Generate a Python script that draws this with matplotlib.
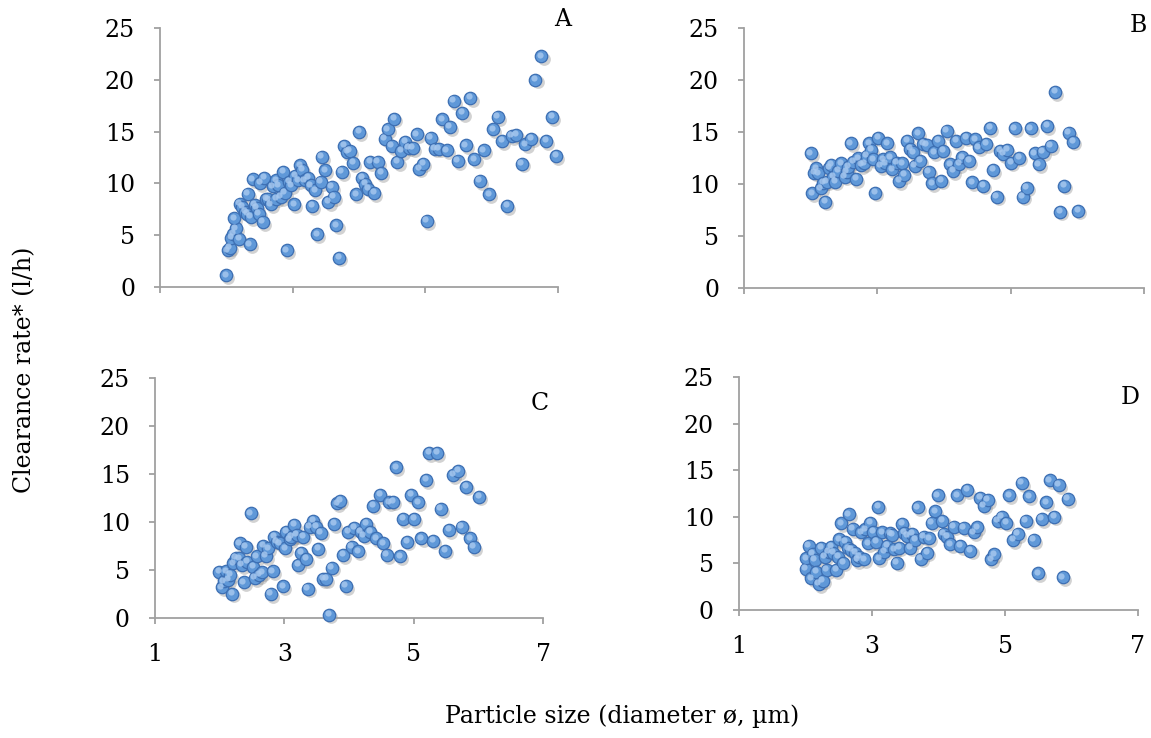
import matplotlib
matplotlib.use("Agg")
import matplotlib.pyplot as plt
import matplotlib.transforms as mtransforms

# ---- data ----
a_x = [2.00, 2.02, 2.05, 2.07, 2.10, 2.19, 2.14, 2.12, 2.35, 2.20, 2.24, 2.28, 2.31, 2.32, 2.37,
       2.40, 2.43, 2.46, 2.49, 2.51, 2.55, 2.57, 2.60, 2.63, 2.67, 2.70, 2.75, 2.78, 2.75, 2.82,
       2.88, 2.86, 2.91, 2.95, 2.98, 3.02, 3.04, 3.08, 3.11, 3.14, 3.18, 3.23, 3.27, 3.29, 3.34,
       3.37, 3.42, 3.44, 3.49, 3.54, 3.59, 3.62, 3.66, 3.70, 3.74, 3.78, 3.82, 3.86, 3.91, 3.96,
       4.00, 4.05, 4.09, 4.14, 4.17, 4.23, 4.28, 4.33, 4.39, 4.43, 4.49, 4.53, 4.58, 4.64, 4.70,
       4.75, 4.81, 4.87, 4.91, 4.97, 5.02, 5.08, 5.14, 5.20, 5.25, 5.32, 5.37, 5.43, 5.49, 5.56,
       5.61, 5.68, 5.74, 5.82, 5.88, 5.96, 6.02, 6.09, 6.16, 6.23, 6.30, 6.37, 6.45, 6.51, 6.60,
       6.66, 6.75, 6.82, 6.91, 6.97]
a_y = [1.13, 3.54, 3.80, 4.76, 5.15, 4.67, 5.66, 6.63, 4.12, 8.04, 7.72, 7.24, 7.08, 9.00, 6.76,
       10.39, 7.95, 7.63, 7.08, 10.04, 6.27, 10.52, 8.53, 8.46, 7.98, 9.72, 10.30, 9.81, 8.53, 8.69,
       9.07, 11.10, 3.54, 10.13, 9.81, 7.98, 10.71, 10.30, 11.74, 11.33, 10.30, 10.55, 9.81, 7.82, 9.33,
       5.08, 10.13, 12.55, 11.26, 8.20, 9.65, 8.69, 5.95, 2.83, 11.10, 13.61, 13.03, 13.13, 11.97, 8.94,
       14.96, 10.55, 9.97, 9.49, 12.07, 9.07, 12.07, 11.00, 14.32, 15.22, 13.61, 16.25, 12.07, 13.13, 14.00,
       13.45, 13.42, 14.74, 11.42, 11.90, 6.37, 14.38, 13.35, 13.35, 16.18, 13.19, 15.44, 17.95, 12.16, 16.80,
       13.67, 18.24, 12.32, 10.23, 13.19, 8.94, 15.22, 16.41, 14.09, 7.82, 14.58, 14.70, 11.90, 13.77, 14.32,
       20.01, 22.26, 14.09, 16.41, 12.64]

b_x = [2.00, 2.02, 2.05, 2.08, 2.11, 2.15, 2.19, 2.22, 2.24, 2.28, 2.31, 2.34, 2.37, 2.41, 2.46,
       2.51, 2.54, 2.56, 2.60, 2.64, 2.68, 2.71, 2.76, 2.80, 2.84, 2.88, 2.91, 2.94, 2.97, 3.01,
       3.05, 3.09, 3.12, 3.15, 3.19, 3.22, 3.29, 3.33, 3.37, 3.40, 3.45, 3.49, 3.54, 3.56, 3.61,
       3.64, 3.69, 3.74, 3.77, 3.82, 3.85, 3.91, 3.96, 3.99, 4.04, 4.09, 4.14, 4.18, 4.23, 4.27,
       4.33, 4.38, 4.42, 4.47, 4.52, 4.59, 4.63, 4.69, 4.74, 4.79, 4.84, 4.89, 4.95, 5.01, 5.06,
       5.13, 5.18, 5.24, 5.30, 5.36, 5.42, 5.48, 5.55, 5.60, 5.67, 5.74, 5.80, 5.87, 5.94, 6.01]
b_y = [12.95, 9.11, 11.09, 11.51, 11.03, 9.59, 10.13, 8.31, 10.23, 11.57, 11.83, 10.71, 10.23, 11.29, 11.99,
       10.71, 11.19, 11.67, 13.91, 12.15, 10.49, 12.47, 11.83, 11.99, 12.69, 13.91, 13.27, 12.37, 9.18, 14.45,
       11.73, 12.37, 11.99, 13.91, 12.56, 11.41, 12.05, 10.29, 11.99, 10.87, 14.13, 13.36, 13.04, 11.73, 14.87,
       12.24, 13.84, 13.75, 11.19, 10.07, 13.04, 14.16, 10.33, 13.20, 15.09, 11.89, 11.25, 14.13, 11.92, 12.56,
       14.45, 12.21, 10.17, 14.29, 13.52, 9.85, 13.84, 15.41, 11.35, 8.79, 13.20, 12.88, 13.27, 12.05, 15.35,
       12.53, 8.79, 9.65, 15.35, 12.95, 11.89, 13.08, 15.60, 13.68, 18.86, 7.35, 9.85, 14.93, 14.07, 7.45]

c_x = [1.99, 2.03, 2.06, 2.10, 2.13, 2.16, 2.19, 2.21, 2.25, 2.30, 2.31, 2.34, 2.37, 2.40, 2.43,
       2.48, 2.52, 2.54, 2.57, 2.61, 2.66, 2.67, 2.71, 2.75, 2.79, 2.82, 2.84, 2.88, 2.93, 2.98,
       3.01, 3.03, 3.08, 3.11, 3.15, 3.19, 3.21, 3.26, 3.29, 3.34, 3.36, 3.39, 3.45, 3.49, 3.52,
       3.56, 3.60, 3.65, 3.69, 3.73, 3.77, 3.82, 3.86, 3.91, 3.95, 3.99, 4.04, 4.08, 4.14, 4.18,
       4.23, 4.27, 4.33, 4.37, 4.42, 4.48, 4.53, 4.58, 4.62, 4.68, 4.73, 4.79, 4.84, 4.90, 4.96,
       5.01, 5.07, 5.12, 5.19, 5.24, 5.30, 5.36, 5.42, 5.49, 5.55, 5.61, 5.69, 5.74, 5.81, 5.87,
       5.93, 6.01]
c_y = [4.78, 3.19, 3.81, 4.85, 3.98, 4.50, 2.53, 5.71, 6.30, 6.23, 7.79, 5.54, 3.70, 7.44, 5.82,
       10.91, 5.30, 4.16, 6.41, 4.50, 4.74, 7.55, 6.47, 7.27, 2.49, 4.85, 8.48, 7.96, 7.79, 3.29,
       7.27, 9.00, 8.21, 8.48, 9.70, 8.66, 5.54, 6.82, 8.48, 6.16, 3.05, 9.52, 10.11, 9.52, 7.20,
       8.90, 4.05, 4.05, 0.35, 5.26, 9.80, 11.95, 12.22, 6.58, 3.36, 9.00, 7.44, 9.42, 6.93, 9.00,
       8.59, 9.80, 9.00, 11.70, 8.31, 12.81, 7.79, 6.58, 12.05, 12.12, 15.69, 6.41, 10.32, 7.96, 12.81,
       10.32, 12.05, 8.31, 14.37, 17.21, 8.07, 17.21, 11.36, 7.03, 9.18, 14.89, 15.34, 9.52, 13.68, 8.31,
       7.38, 12.64]

d_x = [2.00, 2.01, 2.05, 2.09, 2.11, 2.14, 2.16, 2.20, 2.24, 2.26, 2.29, 2.32, 2.35, 2.39, 2.42,
       2.46, 2.49, 2.51, 2.54, 2.57, 2.60, 2.64, 2.65, 2.69, 2.71, 2.75, 2.78, 2.81, 2.84, 2.88,
       2.90, 2.94, 2.97, 3.02, 3.06, 3.09, 3.11, 3.15, 3.18, 3.23, 3.27, 3.30, 3.33, 3.37, 3.41,
       3.45, 3.48, 3.53, 3.57, 3.60, 3.65, 3.69, 3.73, 3.78, 3.83, 3.86, 3.90, 3.95, 3.99, 4.06,
       4.08, 4.13, 4.18, 4.23, 4.28, 4.33, 4.38, 4.43, 4.48, 4.53, 4.58, 4.63, 4.68, 4.74, 4.79,
       4.84, 4.89, 4.95, 5.02, 5.06, 5.12, 5.19, 5.25, 5.31, 5.36, 5.43, 5.50, 5.55, 5.62, 5.67,
       5.74, 5.81, 5.87, 5.94]
d_y = [4.41, 5.55, 6.88, 3.40, 6.02, 5.37, 4.12, 2.79, 6.70, 3.15, 5.73, 4.30, 6.27, 6.81, 6.16,
       4.30, 5.73, 7.59, 9.31, 5.09, 7.34, 6.63, 10.28, 6.45, 8.70, 6.16, 5.37, 5.73, 8.35, 5.44,
       8.67, 7.16, 9.38, 8.42, 7.31, 11.10, 5.55, 8.35, 6.27, 6.88, 8.24, 8.06, 6.52, 5.09, 6.70,
       9.24, 8.31, 7.95, 6.70, 8.17, 7.52, 11.00, 5.52, 7.88, 6.16, 7.70, 9.38, 10.57, 12.29, 9.60,
       8.17, 7.88, 7.06, 8.95, 12.29, 6.88, 8.85, 12.89, 6.38, 8.35, 8.88, 12.00, 11.21, 11.82, 5.44,
       5.98, 9.60, 10.03, 9.38, 12.29, 7.52, 8.17, 13.61, 9.60, 12.18, 7.52, 3.94, 9.78, 11.57, 13.90,
       10.03, 13.43, 3.51, 11.93]

panel_labels = ["A", "B", "C", "D"]
x_ticks = [1, 3, 5, 7]
y_ticks = [0, 5, 10, 15, 20, 25]
x_label = "Particle size (diameter ø, µm)"
y_label = "Clearance rate* (l/h)"

# ---- style ----
plt.rcParams["font.family"] = ["DejaVu Serif"]
FS = 17
GRAY = "#a0a0a0"

W, H = 1151, 738
fig = plt.figure(figsize=(W / 100, H / 100), dpi=100)

def rect(l, r, b, t):
    return [l / W, 1 - b / H, (r - l) / W, (b - t) / H]

rects = [rect(160, 558, 287, 28), rect(744, 1144, 288, 28),
         rect(155, 543, 618, 378), rect(739, 1138, 610, 377)]
data = [(a_x, a_y), (b_x, b_y), (c_x, c_y), (d_x, d_y)]
label_pos = [(563, 20), (1138, 25), (540, 403), (1130, 397)]

for i, (r, (xs, ys)) in enumerate(zip(rects, data)):
    ax = fig.add_axes(r)
    ax.set_xlim(1, 7)
    ax.set_ylim(0, 25)
    ax.set_xticks(x_ticks)
    ax.set_yticks(y_ticks)
    for s in ["top", "right"]:
        ax.spines[s].set_visible(False)
    for s in ["left", "bottom"]:
        ax.spines[s].set_color(GRAY)
        ax.spines[s].set_linewidth(1.3)
    ax.tick_params(axis="both", direction="out", length=4, width=1.3, color=GRAY,
                   labelsize=FS, pad=14)
    if i < 2:
        ax.tick_params(axis="x", labelbottom=False)
    # shadow
    sh = ax.transData + mtransforms.ScaledTranslation(1.5 / 72, -2 / 72, fig.dpi_scale_trans)
    ax.scatter(xs, ys, s=85, color="#808080", alpha=0.35, linewidths=0, transform=sh,
               clip_on=False, zorder=2)
    ax.scatter(xs, ys, s=80, facecolor="#5f98d8", edgecolor="#3d6fb3", linewidths=0.9,
               clip_on=False, zorder=3)
    hl = ax.transData + mtransforms.ScaledTranslation(-1.0 / 72, 1.2 / 72, fig.dpi_scale_trans)
    ax.scatter(xs, ys, s=20, color="#a9c9ef", alpha=0.8, linewidths=0, transform=hl,
               clip_on=False, zorder=4)
    lx, ly = label_pos[i]
    fig.text(lx / W, 1 - ly / H, panel_labels[i], fontsize=FS, ha="center", va="center")

fig.text(622 / W, 1 - 716 / H, x_label, fontsize=FS, ha="center", va="center")
fig.text(25 / W, 1 - 370 / H, y_label, fontsize=FS, ha="center", va="center", rotation=90)

fig.savefig("out.png", dpi=100)
